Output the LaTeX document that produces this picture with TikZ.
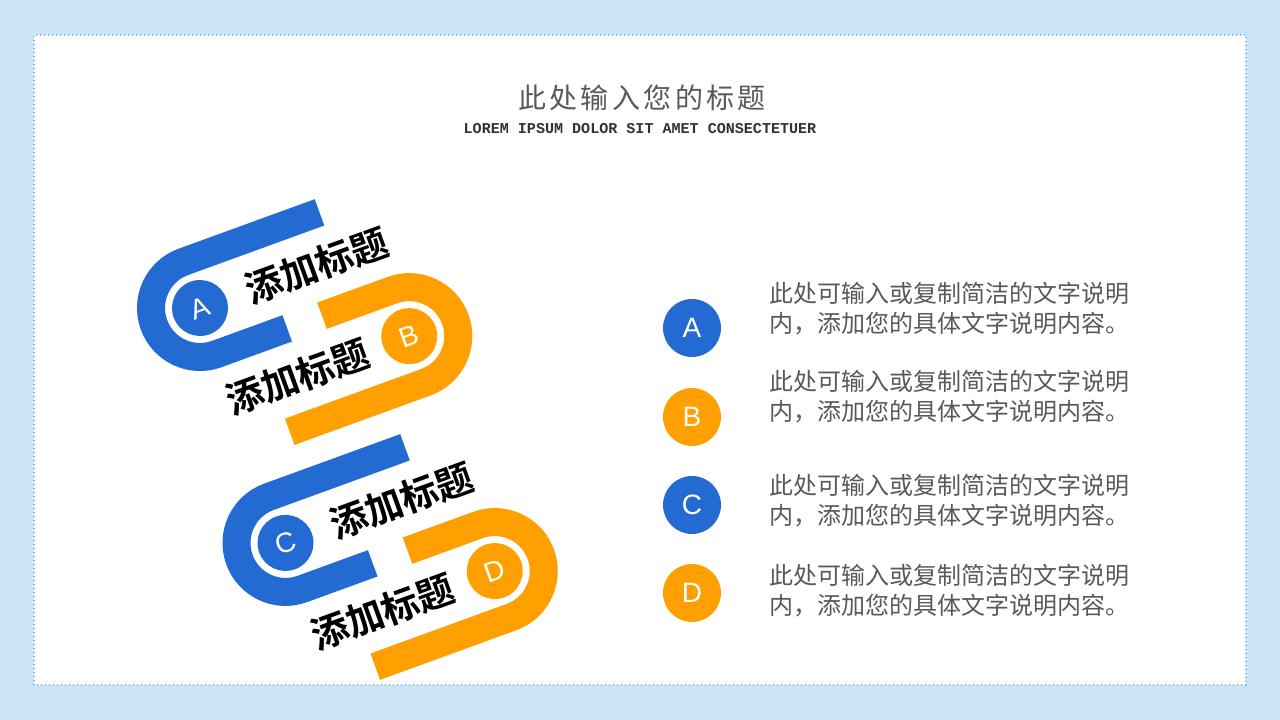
\documentclass[tikz,border=0pt]{standalone}
\usepackage{fontspec}
\setmainfont{Liberation Sans}
\newfontfamily\cjkfont{Noto Sans CJK SC}[BoldFont={Noto Sans CJK SC Bold}]
\newfontfamily\cjktitlefont{Noto Sans CJK SC}[LetterSpace=12]
\newfontfamily\latinmono{Liberation Mono}
\usepackage{tikz}
\usetikzlibrary{positioning}
\definecolor{pageblue}{RGB}{205,227,247}
\definecolor{framecyan}{RGB}{90,195,235}
\definecolor{linkblue}{RGB}{35,107,211}
\definecolor{linkorange}{RGB}{255,159,0}
\definecolor{bodygray}{RGB}{89,89,89}
\tikzset{
link band/.style={line width=21pt, draw=#1},
letter dot/.style={%
    circle,
    inner sep=0pt,
    minimum size=42pt,
    fill=#1,
    text=white,
    font=\fontsize{21}{21}\selectfont
},
link title/.style={font=\cjkfont\bfseries\fontsize{28}{28}\selectfont, text=black, inner sep=0pt},
note text/.style={%
    anchor=west,
    align=left,
    inner sep=0pt,
    text=bodygray,
    font=\cjkfont\fontsize{18}{22.5}\selectfont
},
}

\begin{document}
\begin{tikzpicture}[x=0.75pt, y=0.75pt]
	% page and frame
	\fill[pageblue] (0,0) rectangle (1280,720);
	\draw[framecyan, line width=1pt, dotted, fill=white] (34,35) rectangle (1246,685);

	\node[text=bodygray, font=\cjktitlefont\fontsize{21}{21}\selectfont] at (642,622) (title) {此处输入您的标题};
	\node[text=black!80, font=\latinmono\bfseries\fontsize{11.3}{11.3}\selectfont] at (640,591) (subtitle) {LOREM IPSUM DOLOR SIT AMET CONSECTETUER};

	% chain of links
	\begin{scope}[shift={(200,412)}, rotate=20, transform shape]
		\draw[link band=linkblue] (145,49) -- (0,49) arc[start angle=90, end angle=270, radius=49] -- (75,-49);
		\node[letter dot=linkblue] at (0,0) (linkA) {A};
		\node[link title] at (124,0) (titleA) {添加标题};

		\draw[link band=linkorange] (112,-49) -- (187,-49) arc[start angle=90, end angle=-90, radius=49] -- (42,-147);
		\node[letter dot=linkorange] at (187,-98) (linkB) {B};
		\node[link title] at (68,-98) (titleB) {添加标题};

		\draw[link band=linkblue] (145,-201) -- (0,-201) arc[start angle=90, end angle=270, radius=49] -- (75,-299);
		\node[letter dot=linkblue] at (0,-250) (linkC) {C};
		\node[link title] at (124,-250) (titleC) {添加标题};

		\draw[link band=linkorange] (112,-299) -- (187,-299) arc[start angle=90, end angle=-90, radius=49] -- (42,-397);
		\node[letter dot=linkorange] at (187,-348) (linkD) {D};
		\node[link title] at (68,-348) (titleD) {添加标题};
	\end{scope}

	% notes
	\node[letter dot=linkblue, minimum size=43.5pt] at (692,392) (dotA) {A};
	\node[letter dot=linkorange, minimum size=43.5pt] at (692,303) (dotB) {B};
	\node[letter dot=linkblue, minimum size=43.5pt] at (692,215) (dotC) {C};
	\node[letter dot=linkorange, minimum size=43.5pt] at (692,127) (dotD) {D};

	\node[note text] at (769,411) (noteA) {此处可输入或复制简洁的文字说明\\内，添加您的具体文字说明内容。};
	\node[note text] at (769,323) (noteB) {此处可输入或复制简洁的文字说明\\内，添加您的具体文字说明内容。};
	\node[note text] at (769,219) (noteC) {此处可输入或复制简洁的文字说明\\内，添加您的具体文字说明内容。};
	\node[note text] at (769,129) (noteD) {此处可输入或复制简洁的文字说明\\内，添加您的具体文字说明内容。};
\end{tikzpicture}
\end{document}
